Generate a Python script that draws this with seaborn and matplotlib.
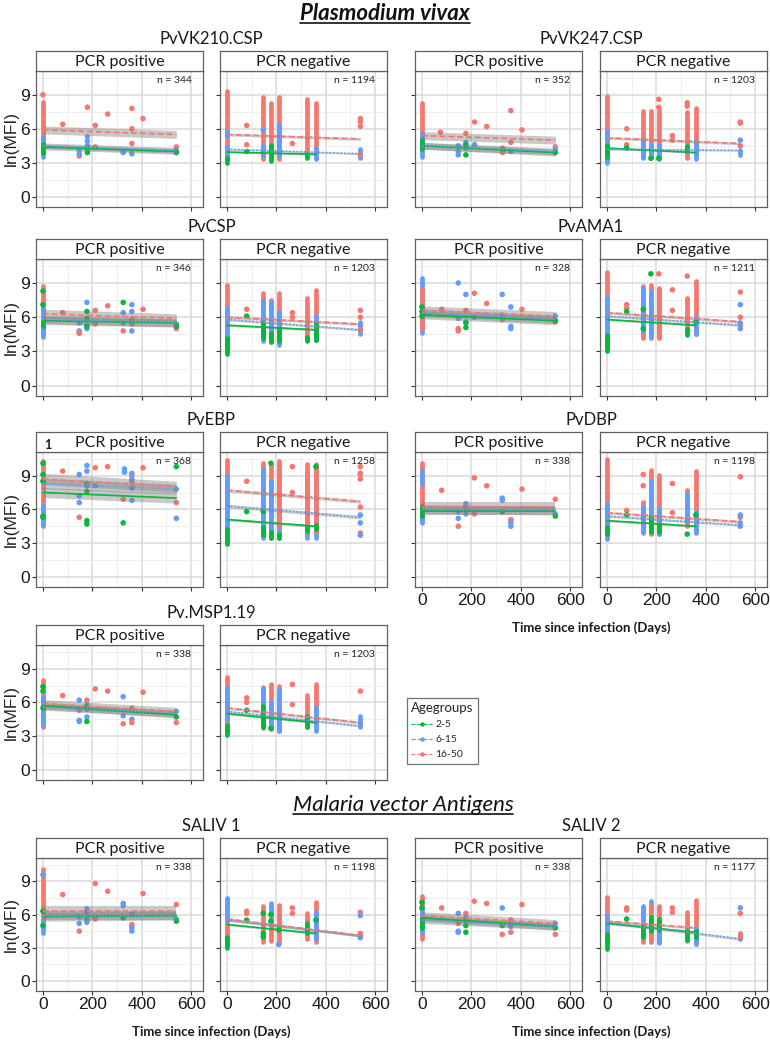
import matplotlib.pyplot as plt
import pandas as pd
import seaborn as sns
from matplotlib.lines import Line2D
from matplotlib.ticker import MultipleLocator

# age groups
Y, M, O = "2-5", "6-15", "16-50"
GROUPS = [Y, M, O]
PALETTE = {Y: "#00BA38", M: "#619CFF", O: "#F8766D"}
DASHES = {Y: "", M: (1, 1.2), O: (3.5, 1.8)}

DAY_TICKS = [0, 200, 400, 600]
MFI_TICKS = [0, 3, 6, 9]

# stripes = (day, age, low, high) of densely stacked points
# points = (day, age, ln MFI)
# fits = (age, value at day 0, value at last day, last day, half width of band)

VK210_POS_STRIPES = [(0, O, 4.0, 8.4), (0, M, 3.5, 5.3), (0, Y, 3.9, 4.7)]
VK210_POS_POINTS = [(0, O, 9.0), (80, O, 6.4), (147, O, 3.6), (147, M, 4.1), (147, M, 3.8),
                    (180, O, 7.9), (180, M, 5.3), (180, M, 4.9), (180, M, 4.5), (180, M, 4.0),
                    (180, Y, 3.9), (212, O, 6.3), (212, O, 4.4), (262, O, 7.3), (325, M, 3.9),
                    (360, O, 7.8), (360, O, 6.0), (360, O, 4.7), (360, M, 3.8), (405, O, 6.9),
                    (540, O, 4.4), (540, M, 4.1), (540, Y, 3.9)]
VK210_POS_FITS = [(O, 5.9, 5.5, 540, 0.35), (M, 4.5, 4.1, 540, 0.25), (Y, 4.4, 4.0, 540, 0.25)]

VK210_NEG_STRIPES = [(0, O, 3.3, 9.3), (0, M, 3.5, 4.4), (0, M, 5.4, 5.8), (0, Y, 3.0, 3.4),
                     (147, O, 3.3, 8.8), (147, M, 3.6, 4.5), (178, O, 3.3, 8.3), (178, Y, 3.2, 4.6),
                     (210, O, 3.3, 8.8), (210, M, 3.6, 6.3), (325, O, 3.5, 8.6), (325, Y, 3.4, 3.8),
                     (360, O, 3.4, 8.3), (360, M, 3.3, 4.3), (540, M, 3.4, 4.2)]
VK210_NEG_POINTS = [(80, O, 6.3), (80, O, 4.6), (80, Y, 4.0), (147, M, 5.9), (265, O, 4.7),
                    (540, O, 6.9), (540, O, 6.6), (540, O, 6.2), (540, O, 3.7)]
VK210_NEG_FITS = [(O, 5.5, 5.1, 540, 0.12), (M, 4.2, 3.8, 540, 0.08), (Y, 3.95, 3.75, 360, 0.08)]

VK247_POS_STRIPES = [(0, O, 5.0, 8.3), (0, M, 3.5, 5.6), (0, Y, 4.2, 5.0)]
VK247_POS_POINTS = [(75, O, 5.7), (147, M, 4.5), (147, M, 4.0), (147, M, 3.7), (178, O, 5.6),
                    (178, M, 4.8), (178, M, 4.3), (178, Y, 4.6), (178, Y, 3.7), (213, O, 6.6),
                    (213, M, 4.6), (262, O, 6.2), (327, O, 4.3), (327, O, 3.9), (360, O, 7.6),
                    (360, O, 4.8), (360, M, 4.0), (405, O, 5.9), (540, O, 4.4), (540, M, 4.2),
                    (540, Y, 3.9)]
VK247_POS_FITS = [(O, 5.4, 5.0, 540, 0.35), (M, 4.5, 4.0, 540, 0.3), (Y, 4.5, 3.9, 540, 0.3)]

VK247_NEG_STRIPES = [(0, O, 3.1, 8.9), (0, M, 3.0, 4.2), (0, M, 5.0, 5.8), (0, Y, 3.5, 4.6),
                     (147, O, 3.5, 7.6), (147, M, 3.4, 5.0), (178, O, 3.5, 7.6), (178, M, 3.5, 4.6),
                     (210, O, 3.5, 7.7), (210, M, 3.3, 4.6), (325, O, 3.4, 7.5), (325, Y, 4.0, 4.5),
                     (360, O, 3.7, 7.8), (360, M, 3.3, 4.9), (540, M, 3.7, 4.1)]
VK247_NEG_POINTS = [(80, O, 6.0), (80, O, 4.6), (80, Y, 4.3), (178, Y, 3.4), (210, O, 8.6),
                    (210, O, 7.9), (210, Y, 3.4), (265, O, 5.4), (265, O, 5.0), (325, O, 8.3),
                    (325, O, 8.0), (540, O, 6.6), (540, O, 6.5), (540, O, 4.5), (540, M, 5.0)]
VK247_NEG_FITS = [(O, 5.2, 4.7, 540, 0.12), (M, 4.2, 4.1, 540, 0.08), (Y, 4.3, 3.9, 360, 0.08)]

CSP_POS_STRIPES = [(0, O, 4.5, 8.7), (0, M, 4.3, 6.7), (0, Y, 5.2, 5.6)]
CSP_POS_POINTS = [(0, Y, 8.3), (0, Y, 7.1), (80, O, 6.4), (147, M, 5.5), (147, M, 4.8),
                  (147, M, 4.6), (147, O, 4.6), (178, M, 7.3), (178, Y, 6.5), (178, Y, 5.9),
                  (178, M, 5.3), (178, M, 5.0), (178, Y, 5.2), (212, O, 6.6), (212, O, 5.4),
                  (262, O, 7.0), (325, Y, 7.3), (325, M, 6.4), (325, M, 5.5), (325, O, 4.8),
                  (360, M, 7.1), (360, M, 6.5), (360, O, 5.8), (360, O, 5.4), (360, M, 4.8),
                  (405, O, 6.7), (540, M, 5.4), (540, O, 5.0), (540, Y, 5.2)]
CSP_POS_FITS = [(O, 6.3, 5.9, 540, 0.4), (M, 5.8, 5.5, 540, 0.35), (Y, 5.7, 5.5, 540, 0.35)]

CSP_NEG_STRIPES = [(0, O, 3.0, 8.8), (0, M, 3.4, 6.8), (0, Y, 2.8, 4.2), (147, O, 4.0, 8.1),
                   (147, M, 3.9, 7.4), (147, Y, 4.2, 5.5), (178, O, 3.8, 7.5), (178, M, 3.9, 7.3),
                   (178, Y, 3.8, 4.6), (210, O, 3.7, 8.1), (210, M, 3.6, 6.5), (210, Y, 3.9, 5.0),
                   (325, O, 4.0, 7.7), (325, Y, 3.9, 4.3), (360, O, 4.0, 8.4), (360, M, 4.0, 6.1),
                   (360, Y, 4.0, 5.4), (540, M, 4.5, 5.6)]
CSP_NEG_POINTS = [(80, O, 6.7), (80, Y, 6.1), (265, O, 6.4), (265, O, 6.0), (540, O, 6.6),
                  (540, O, 6.0), (540, O, 4.9)]
CSP_NEG_FITS = [(O, 6.0, 5.4, 540, 0.12), (M, 5.8, 4.9, 540, 0.1), (Y, 5.3, 4.9, 360, 0.1)]

AMA1_POS_STRIPES = [(0, M, 4.6, 9.4), (0, O, 5.0, 8.5)]
AMA1_POS_POINTS = [(0, Y, 6.9), (0, Y, 6.5), (0, Y, 6.1), (80, O, 6.7), (147, M, 9.0),
                   (147, M, 5.9), (147, O, 5.0), (147, O, 4.8), (178, M, 8.0), (178, O, 6.6),
                   (178, M, 5.6), (178, Y, 5.5), (178, Y, 5.1), (212, O, 8.1), (212, M, 6.0),
                   (262, O, 7.2), (325, M, 8.0), (325, O, 5.8), (325, M, 6.2), (360, M, 6.9),
                   (360, M, 5.2), (360, M, 5.0), (405, O, 6.7), (540, M, 6.1), (540, O, 5.6),
                   (540, Y, 5.7)]
AMA1_POS_FITS = [(O, 6.6, 6.1, 540, 0.4), (M, 6.4, 5.8, 540, 0.35), (Y, 6.2, 5.7, 540, 0.35)]

AMA1_NEG_STRIPES = [(0, O, 3.1, 10.0), (0, M, 4.0, 7.8), (0, Y, 3.0, 4.4), (147, O, 4.2, 8.7),
                    (147, M, 4.8, 8.6), (178, O, 4.2, 8.8), (178, M, 4.3, 8.3), (210, M, 4.3, 8.5),
                    (210, O, 4.2, 8.6), (325, O, 4.7, 7.7), (325, Y, 4.4, 5.0), (360, O, 4.5, 9.2),
                    (360, M, 4.5, 6.0)]
AMA1_NEG_POINTS = [(80, O, 7.1), (80, O, 6.8), (80, Y, 6.5), (147, Y, 6.7), (147, Y, 5.0),
                   (178, Y, 9.8), (210, O, 9.8), (265, O, 8.4), (265, O, 6.6), (325, O, 9.6),
                   (360, Y, 5.6), (540, O, 8.2), (540, M, 7.1), (540, O, 6.0), (540, O, 5.3),
                   (540, M, 5.5), (540, M, 5.0)]
AMA1_NEG_FITS = [(O, 6.4, 5.6, 540, 0.12), (M, 6.1, 5.3, 540, 0.1), (Y, 5.8, 5.3, 360, 0.1)]

EBP_POS_STRIPES = [(0, O, 4.7, 10.3), (0, M, 4.5, 6.3)]
EBP_POS_POINTS = [(0, Y, 10.1), (0, Y, 9.1), (0, Y, 8.5), (0, Y, 5.4), (0, Y, 5.3), (80, O, 9.4),
                  (147, M, 9.1), (147, M, 7.2), (147, M, 6.6), (147, O, 5.3), (178, M, 9.9),
                  (178, M, 9.4), (178, Y, 8.3), (178, M, 8.1), (178, Y, 7.6), (178, Y, 5.0),
                  (178, Y, 4.7), (212, O, 9.7), (212, M, 8.1), (262, O, 9.8), (325, O, 6.9),
                  (325, Y, 4.8), (330, M, 9.6), (330, M, 9.3), (360, O, 9.0), (360, O, 8.5),
                  (360, M, 9.2), (360, M, 8.7), (360, M, 7.9), (360, M, 6.8), (405, O, 9.7),
                  (540, Y, 9.8), (540, M, 7.8), (540, O, 6.6), (540, M, 5.2)]
EBP_POS_FITS = [(O, 8.7, 8.0, 540, 0.5), (M, 8.3, 7.8, 540, 0.45), (Y, 7.5, 7.0, 540, 0.45)]

EBP_NEG_STRIPES = [(0, O, 3.0, 10.4), (0, M, 4.5, 9.0), (0, Y, 2.9, 4.3), (147, O, 3.6, 10.1),
                   (147, M, 3.5, 9.6), (147, Y, 3.7, 4.4), (178, O, 3.5, 10.0), (178, M, 3.6, 8.5),
                   (178, Y, 3.5, 4.0), (210, M, 3.5, 9.5), (210, O, 4.5, 10.3), (210, Y, 3.5, 3.8),
                   (325, M, 3.5, 9.3), (325, O, 4.0, 10.0), (325, Y, 4.1, 4.4), (360, M, 3.5, 9.7),
                   (360, O, 4.0, 10.0), (360, Y, 4.3, 4.6)]
EBP_NEG_POINTS = [(80, O, 8.5), (80, Y, 5.8), (147, Y, 5.8), (178, Y, 10.1), (265, O, 9.8),
                  (265, O, 7.5), (360, Y, 9.8), (540, O, 9.8), (540, M, 9.2), (540, O, 9.1),
                  (540, O, 8.7), (540, O, 6.2), (540, M, 5.5), (540, M, 4.8), (540, O, 3.9),
                  (540, M, 3.7)]
EBP_NEG_FITS = [(O, 7.7, 6.7, 540, 0.15), (M, 6.3, 5.3, 540, 0.15), (Y, 5.1, 4.5, 360, 0.12)]

DBP_POS_STRIPES = [(0, O, 5.0, 10.1), (0, M, 4.8, 5.9), (0, M, 8.3, 9.4), (0, Y, 5.4, 6.3)]
DBP_POS_POINTS = [(80, O, 7.7), (147, M, 5.8), (147, M, 5.2), (147, O, 4.5), (178, M, 6.5),
                  (178, M, 6.3), (178, O, 6.0), (178, M, 5.6), (212, O, 8.8), (212, O, 5.6),
                  (262, O, 8.1), (325, M, 7.0), (325, M, 6.8), (325, Y, 5.8), (360, O, 5.1),
                  (360, O, 5.0), (360, M, 4.8), (360, M, 4.5), (405, O, 7.8), (540, O, 6.9),
                  (540, M, 5.6), (540, Y, 5.4)]
DBP_POS_FITS = [(O, 6.2, 6.2, 540, 0.45), (M, 6.0, 5.9, 540, 0.4), (Y, 5.9, 5.9, 540, 0.4)]

DBP_NEG_STRIPES = [(0, O, 4.5, 10.5), (0, M, 3.4, 6.5), (0, Y, 3.8, 4.4), (147, O, 3.9, 6.7),
                   (147, M, 4.0, 6.2), (178, O, 3.8, 9.5), (178, M, 4.2, 8.5), (178, Y, 4.0, 5.3),
                   (210, O, 3.8, 9.1), (210, M, 3.8, 6.0), (210, Y, 4.0, 4.6), (325, O, 4.5, 7.7),
                   (325, M, 5.0, 7.4), (360, O, 4.0, 9.4), (360, M, 3.9, 5.8)]
DBP_NEG_POINTS = [(80, O, 5.9), (80, Y, 5.5), (147, O, 9.1), (147, O, 8.1), (265, O, 8.3),
                  (265, O, 5.7), (325, Y, 3.8), (360, Y, 5.5), (540, O, 8.9), (540, O, 5.3),
                  (540, M, 5.5), (540, M, 4.8), (540, M, 4.5)]
DBP_NEG_FITS = [(O, 5.7, 4.9, 540, 0.12), (M, 5.4, 4.6, 540, 0.1), (Y, 5.0, 4.5, 360, 0.1)]

MSP1_POS_STRIPES = [(0, O, 3.8, 8.0), (0, M, 4.0, 6.5)]
MSP1_POS_POINTS = [(0, Y, 7.4), (0, Y, 7.0), (0, Y, 5.5), (80, O, 6.6), (147, M, 6.2),
                   (147, O, 5.3), (147, M, 4.4), (147, M, 4.3), (178, O, 6.2), (178, M, 5.8),
                   (178, Y, 5.6), (178, M, 5.4), (178, M, 4.7), (178, Y, 4.3), (212, O, 7.2),
                   (262, O, 7.0), (325, M, 6.5), (325, M, 4.8), (325, O, 4.1), (360, O, 5.5),
                   (360, M, 4.5), (360, O, 4.2), (405, O, 6.9), (540, M, 5.2), (540, Y, 4.7),
                   (540, O, 4.2)]
MSP1_POS_FITS = [(O, 5.9, 5.2, 540, 0.35), (M, 5.6, 5.0, 540, 0.3), (Y, 5.7, 4.9, 540, 0.3)]

MSP1_NEG_STRIPES = [(0, O, 3.4, 8.3), (0, M, 4.5, 7.3), (0, Y, 3.1, 4.0), (147, O, 3.7, 7.4),
                    (147, M, 4.0, 7.2), (147, Y, 3.8, 5.7), (178, O, 3.6, 7.6), (178, M, 3.6, 6.0),
                    (210, O, 3.5, 7.5), (210, M, 3.5, 7.1), (325, O, 3.8, 6.7), (325, Y, 3.8, 4.8),
                    (360, O, 3.7, 7.6), (360, M, 3.5, 5.6), (540, O, 4.0, 4.4), (540, M, 3.8, 4.8)]
MSP1_NEG_POINTS = [(80, O, 6.4), (80, O, 6.0), (80, Y, 5.3), (178, Y, 3.7), (265, O, 7.6),
                   (265, O, 5.8), (540, O, 7.0)]
MSP1_NEG_FITS = [(O, 5.5, 4.2, 540, 0.12), (M, 5.2, 3.9, 540, 0.1), (Y, 5.0, 4.2, 360, 0.1)]

SALIV1_POS_STRIPES = [(0, O, 4.8, 10.1), (0, M, 4.3, 5.4)]
SALIV1_POS_POINTS = [(0, M, 9.6), (0, Y, 6.3), (0, Y, 5.0), (80, O, 7.8), (147, M, 5.8),
                     (147, M, 5.2), (147, O, 4.5), (178, M, 6.5), (178, M, 6.2), (178, Y, 5.5),
                     (178, M, 5.3), (212, O, 8.8), (212, O, 5.6), (262, O, 8.1), (325, M, 7.0),
                     (325, M, 6.8), (325, Y, 5.7), (360, M, 6.0), (360, O, 5.1), (360, O, 5.0),
                     (360, M, 4.8), (360, M, 4.5), (405, O, 7.9), (540, O, 6.9), (540, M, 5.6),
                     (540, Y, 5.4)]
SALIV1_POS_FITS = [(O, 6.3, 6.3, 540, 0.45), (M, 5.9, 5.9, 540, 0.4), (Y, 5.8, 5.9, 540, 0.4)]

SALIV1_NEG_STRIPES = [(0, O, 3.5, 7.4), (0, M, 5.5, 7.5), (0, M, 3.2, 4.0), (0, Y, 3.0, 4.0),
                      (147, O, 3.5, 6.8), (178, O, 3.6, 6.8), (178, M, 6.0, 7.0), (210, O, 3.5, 6.9),
                      (325, O, 3.8, 6.1), (325, Y, 4.3, 5.2), (360, O, 3.5, 7.1), (360, M, 3.8, 6.2)]
SALIV1_NEG_POINTS = [(80, O, 6.3), (80, O, 6.1), (80, Y, 5.5), (147, Y, 6.1), (147, Y, 4.3),
                     (147, Y, 4.0), (178, Y, 6.0), (178, Y, 5.4), (210, M, 3.3), (210, Y, 4.6),
                     (265, O, 6.6), (265, O, 6.1), (360, Y, 5.5), (540, O, 6.2), (540, M, 5.9),
                     (540, O, 4.3), (540, O, 4.1), (540, M, 3.9)]
SALIV1_NEG_FITS = [(O, 5.6, 4.1, 540, 0.12), (M, 5.5, 4.1, 540, 0.12), (Y, 5.1, 4.3, 360, 0.1)]

SALIV2_POS_STRIPES = [(0, O, 3.8, 7.7), (0, M, 4.3, 6.6), (0, Y, 4.8, 5.6)]
SALIV2_POS_POINTS = [(0, Y, 7.1), (0, Y, 6.6), (80, O, 6.6), (147, M, 6.1), (147, O, 5.2),
                     (147, M, 4.5), (147, M, 4.4), (178, O, 6.1), (178, M, 5.7), (178, M, 5.4),
                     (178, Y, 5.0), (178, Y, 4.4), (212, O, 7.2), (262, O, 7.0), (325, M, 6.6),
                     (325, Y, 5.0), (325, O, 4.2), (360, O, 5.5), (360, M, 4.9), (360, O, 4.4),
                     (405, O, 6.9), (540, M, 5.2), (540, Y, 4.8), (540, O, 4.2)]
SALIV2_POS_FITS = [(O, 5.9, 5.2, 540, 0.35), (M, 5.5, 4.9, 540, 0.3), (Y, 5.7, 4.9, 540, 0.3)]

SALIV2_NEG_STRIPES = [(0, O, 3.6, 7.6), (0, M, 4.2, 6.0), (0, Y, 2.9, 4.2), (147, O, 3.5, 6.6),
                      (147, M, 5.5, 6.8), (147, Y, 4.0, 5.0), (178, M, 3.5, 7.2), (178, O, 3.7, 6.8),
                      (178, Y, 4.5, 5.8), (210, O, 3.5, 6.8), (210, M, 3.4, 4.5), (210, Y, 4.6, 5.6),
                      (325, O, 3.6, 6.2), (325, Y, 3.7, 4.5), (360, O, 3.3, 7.3), (360, M, 3.3, 4.8),
                      (360, Y, 4.0, 4.5), (540, M, 3.8, 4.2), (540, O, 3.9, 4.3)]
SALIV2_NEG_POINTS = [(80, O, 6.6), (80, O, 6.4), (80, Y, 5.6), (265, O, 6.6), (265, O, 6.2),
                     (540, M, 6.6), (540, O, 6.1)]
SALIV2_NEG_FITS = [(O, 5.4, 4.8, 360, 0.12), (M, 5.3, 3.8, 540, 0.12), (Y, 5.2, 4.4, 360, 0.1)]

ANTIGENS = ["PvVK210.CSP", "PvVK247.CSP", "PvCSP", "PvAMA1", "PvEBP", "PvDBP",
            "Pv.MSP1.19", "SALIV 1", "SALIV 2"]
N_POS = [344, 352, 346, 328, 368, 338, 338, 338, 338]
N_NEG = [1194, 1203, 1203, 1211, 1258, 1198, 1203, 1198, 1177]
PANEL_DATA = [
    (VK210_POS_STRIPES, VK210_POS_POINTS, VK210_POS_FITS, VK210_NEG_STRIPES, VK210_NEG_POINTS, VK210_NEG_FITS),
    (VK247_POS_STRIPES, VK247_POS_POINTS, VK247_POS_FITS, VK247_NEG_STRIPES, VK247_NEG_POINTS, VK247_NEG_FITS),
    (CSP_POS_STRIPES, CSP_POS_POINTS, CSP_POS_FITS, CSP_NEG_STRIPES, CSP_NEG_POINTS, CSP_NEG_FITS),
    (AMA1_POS_STRIPES, AMA1_POS_POINTS, AMA1_POS_FITS, AMA1_NEG_STRIPES, AMA1_NEG_POINTS, AMA1_NEG_FITS),
    (EBP_POS_STRIPES, EBP_POS_POINTS, EBP_POS_FITS, EBP_NEG_STRIPES, EBP_NEG_POINTS, EBP_NEG_FITS),
    (DBP_POS_STRIPES, DBP_POS_POINTS, DBP_POS_FITS, DBP_NEG_STRIPES, DBP_NEG_POINTS, DBP_NEG_FITS),
    (MSP1_POS_STRIPES, MSP1_POS_POINTS, MSP1_POS_FITS, MSP1_NEG_STRIPES, MSP1_NEG_POINTS, MSP1_NEG_FITS),
    (SALIV1_POS_STRIPES, SALIV1_POS_POINTS, SALIV1_POS_FITS, SALIV1_NEG_STRIPES, SALIV1_NEG_POINTS, SALIV1_NEG_FITS),
    (SALIV2_POS_STRIPES, SALIV2_POS_POINTS, SALIV2_POS_FITS, SALIV2_NEG_STRIPES, SALIV2_NEG_POINTS, SALIV2_NEG_FITS),
]

# layout in pixels
W, H = 770, 1042
ROWS = [(71, 207), (259, 396), (452, 587), (645, 780), (858, 991)]
COLS = {"L": [(36, 203), (220, 387)], "R": [(415, 582), (600, 767)]}
PLACES = [(0, "L"), (0, "R"), (1, "L"), (1, "R"), (2, "L"), (2, "R"), (3, "L"), (4, "L"), (4, "R")]
XLABELLED = {"PvDBP", "SALIV 1", "SALIV 2"}

sns.set_style("white")
TITLE_FONT = ["Lato", "DejaVu Sans"]
TICK_FONT = ["Liberation Sans Narrow", "Liberation Sans", "DejaVu Sans"]
plt.rcParams["font.family"] = TITLE_FONT


def rect(x0, x1, y0, y1):
    return [x0 / W, 1 - y1 / H, (x1 - x0) / W, (y1 - y0) / H]


def ftext(x, y, s, **kw):
    return fig.text(x / W, 1 - y / H, s, **kw)


def draw_panel(ax, stripes, points, fits, n, show_x, show_y):
    ax.set_xlim(-28, 648)
    ax.set_ylim(-0.9, 11.1)
    ax.set_xticks(DAY_TICKS)
    ax.set_yticks(MFI_TICKS)
    ax.xaxis.set_minor_locator(MultipleLocator(100))
    ax.yaxis.set_minor_locator(MultipleLocator(1.5))
    ax.grid(which="major", color="#DADADA", lw=1.1)
    ax.grid(which="minor", color="#ECECEC", lw=0.6)
    ax.set_axisbelow(True)
    for sp in ax.spines.values():
        sp.set_color("#606060")
        sp.set_linewidth(0.9)
    ax.tick_params(which="major", length=3, width=0.8, color="#333333", pad=1.5,
                   labelsize=12.5, labelcolor="#1a1a1a",
                   bottom=True, left=True, labelbottom=show_x, labelleft=show_y)
    ax.tick_params(which="minor", length=0)
    for lab in ax.get_xticklabels() + ax.get_yticklabels():
        lab.set_family(TICK_FONT)

    sdf = pd.DataFrame(stripes, columns=["day", "age", "low", "high"])
    for r in sdf.itertuples():
        ax.vlines(r.day, r.low, r.high, color=PALETTE[r.age], lw=3.4,
                  capstyle="round", zorder=2)
    pdf = pd.DataFrame(points, columns=["day", "age", "mfi"])
    sns.scatterplot(data=pdf, x="day", y="mfi", hue="age", hue_order=GROUPS,
                    palette=PALETTE, s=16, linewidth=0, legend=False, zorder=3, ax=ax)

    fdf = pd.DataFrame(fits, columns=["age", "start", "end", "last", "band"])
    rows = []
    for r in fdf.itertuples():
        ax.fill_between([0, r.last], [r.start - r.band, r.end - r.band],
                        [r.start + r.band, r.end + r.band],
                        color="#808080", alpha=0.42, lw=0, zorder=4)
        rows.append((r.age, 0, r.start))
        rows.append((r.age, r.last, r.end))
    ldf = pd.DataFrame(rows, columns=["age", "day", "mfi"])
    sns.lineplot(data=ldf, x="day", y="mfi", hue="age", style="age", hue_order=GROUPS,
                 style_order=GROUPS, palette=PALETTE, dashes=DASHES, lw=1.2,
                 estimator=None, legend=False, zorder=5, ax=ax)
    ax.set_xlabel("")
    ax.set_ylabel("")
    ax.text(0.93, 0.93, f"n = {n}", transform=ax.transAxes, ha="right", va="center",
            fontsize=7.5, color="#222222")


def draw_strip(x0, x1, top, label):
    sax = fig.add_axes(rect(x0, x1, top - 20, top))
    sax.set_xticks([])
    sax.set_yticks([])
    sax.set_facecolor("white")
    for sp in sax.spines.values():
        sp.set_color("#606060")
        sp.set_linewidth(0.9)
    sax.text(0.5, 0.45, label, ha="center", va="center", fontsize=11.5, color="#1a1a1a")
    return sax


fig = plt.figure(figsize=(W / 100, H / 100), dpi=100)

for i, name in enumerate(ANTIGENS):
    row, side = PLACES[i]
    top, bottom = ROWS[row]
    (px0, px1), (nx0, nx1) = COLS[side]
    ps, pp, pf, ns, npts, nf = PANEL_DATA[i]
    show_x = name in XLABELLED
    show_y = side == "L"

    ax_pos = fig.add_axes(rect(px0, px1, top, bottom))
    draw_panel(ax_pos, ps, pp, pf, N_POS[i], show_x, show_y)
    ax_neg = fig.add_axes(rect(nx0, nx1, top, bottom))
    draw_panel(ax_neg, ns, npts, nf, N_NEG[i], show_x, False)
    if show_y:
        ax_pos.set_ylabel("ln(MFI)", fontsize=12.5, family=TICK_FONT, labelpad=1)

    pos_strip = draw_strip(px0, px1, top, "PCR positive")
    draw_strip(nx0, nx1, top, "PCR negative")
    if name == "PvEBP":
        pos_strip.text(0.05, 0.35, "1", ha="left", va="center", fontsize=9,
                       fontweight="bold", color="#1a1a1a")

    ftext((px0 + nx1) / 2, top - 32, name, ha="center", va="center", fontsize=12,
          color="#1a1a1a")
    if show_x:
        ftext((px0 + nx1) / 2, bottom + 41, "Time since infection (Days)", ha="center",
              va="center", fontsize=9.5, fontweight="bold", color="#1a1a1a")

# section titles, underlined
t1 = ftext(385, 14, "Plasmodium vivax", ha="center", va="center", fontsize=16,
           fontweight="bold", fontstyle="italic", color="#111111")
t2 = ftext(403, 805, "Malaria vector Antigens", ha="center", va="center", fontsize=16,
           fontstyle="italic", color="#111111")
fig.canvas.draw()
renderer = fig.canvas.get_renderer()
for t in (t1, t2):
    bb = t.get_window_extent(renderer).transformed(fig.transFigure.inverted())
    fig.add_artist(Line2D([bb.x0, bb.x1], [bb.y0 + 0.001, bb.y0 + 0.001],
                          transform=fig.transFigure, color="#111111", lw=1.2))

# legend
handles = [Line2D([], [], color=PALETTE[g], lw=0.8, ls="--", marker="o", markersize=2.2)
           for g in GROUPS]
leg = fig.legend(handles, GROUPS, title="Agegroups", loc="upper left",
                 bbox_to_anchor=(402 / W, 1 - 693 / H), frameon=True, fancybox=False,
                 edgecolor="#505050", fontsize=7.5, title_fontsize=9.5, handlelength=2.0,
                 handletextpad=0.3, labelspacing=0.55, borderpad=0.4)
leg.get_frame().set_linewidth(0.9)
leg._legend_box.align = "left"

fig.savefig("out.png", dpi=100)
